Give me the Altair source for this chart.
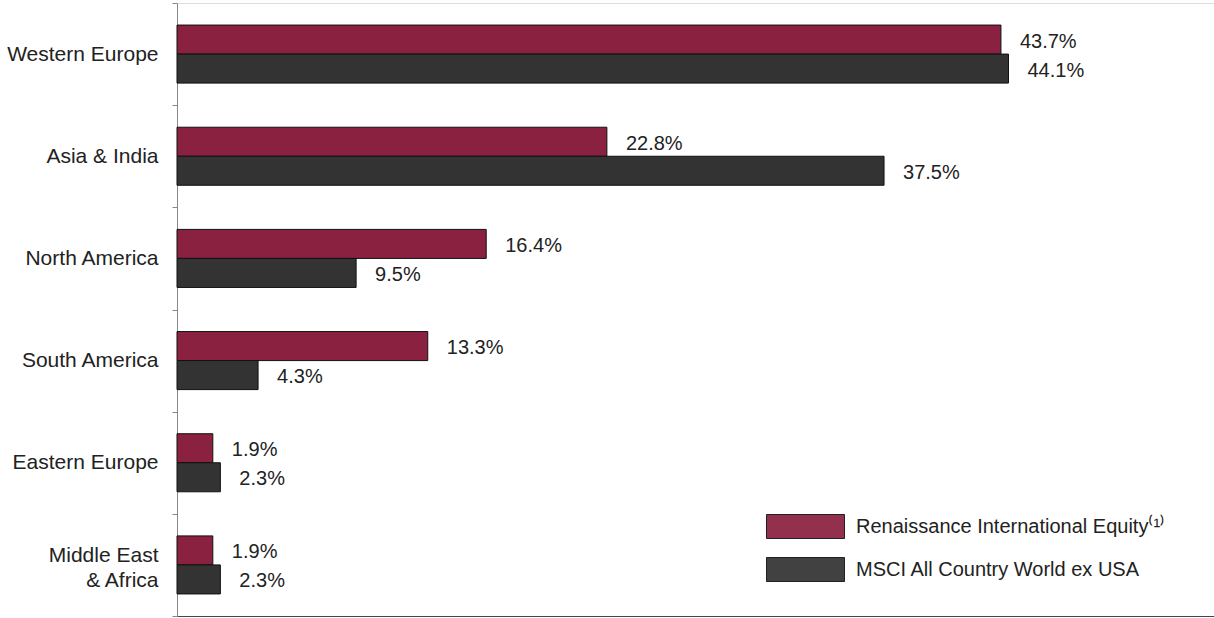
import altair as alt
import pandas as pd

regions = ["Western Europe", "Asia & India", "North America", "South America",
           "Eastern Europe", "Middle East & Africa"]
series = ["Renaissance International Equity\u207d\u00b9\u207e", "MSCI All Country World ex USA"]
fund = [43.7, 22.8, 16.4, 13.3, 1.9, 1.9]
bench = [44.1, 37.5, 9.5, 4.3, 2.3, 2.3]
colors = ["#8B2141", "#333333"]

rows = []
for r, a, b in zip(regions, fund, bench):
    rows.append({"region": r, "series": series[0], "value": a})
    rows.append({"region": r, "series": series[1], "value": b})
df = pd.DataFrame(rows)
df["label"] = df["value"].map(lambda v: f"{v:.1f}%")

FONT = "Liberation Sans"
FS = 20

y = alt.Y("region:N", sort=regions, title=None,
          scale=alt.Scale(paddingInner=0, paddingOuter=0),
          axis=alt.Axis(tickBand="extent", tickSize=5, tickColor="#888888",
                        domainColor="#888888", labelFontSize=21, labelColor="#222222",
                        labelFont=FONT, labelPadding=14, labelLineHeight=25,
                        labelOffset={"condition": {"test": "datum.value == 'Middle East & Africa'",
                                                   "value": -9}, "value": 0},
                        labelExpr="datum.label == 'Middle East & Africa' ? ['Middle East', '& Africa'] : datum.label"))
yoff = alt.YOffset("series:N", sort=series,
                   scale=alt.Scale(paddingOuter=0.76, paddingInner=0))
x = alt.X("value:Q", title=None, scale=alt.Scale(domain=[0, 55], nice=False),
          axis=alt.Axis(labels=False, ticks=False, grid=False, domainColor="#444444",
                        domainWidth=1.2))

bars = alt.Chart(df).mark_bar(stroke="#111111", strokeWidth=1).encode(
    y=y, yOffset=yoff, x=x,
    color=alt.Color("series:N", sort=series,
                    scale=alt.Scale(domain=series, range=colors),
                    legend=alt.Legend(title=None, orient="none", legendX=616, legendY=511,
                                      symbolType="M-3.25,-1H3.25V1H-3.25Z", symbolSize=576,
                                      symbolStrokeColor="#111111", symbolStrokeWidth=1,
                                      symbolOpacity=0.93,
                                      labelFontSize=FS, labelFont=FONT, labelColor="#222222",
                                      labelOffset=38, rowPadding=14, padding=0,
                                      labelLimit=400)),
)

text = alt.Chart(df).mark_text(align="left", baseline="middle", dx=19, dy=2,
                               fontSize=FS, font=FONT, color="#222222").encode(
    y=alt.Y("region:N", sort=regions), yOffset=alt.YOffset("series:N", sort=series),
    x="value:Q", text="label:N")

chart = alt.layer(bars, text).properties(
    width=1037, height=613,
    autosize=alt.AutoSizeParams(type="none"),
    padding={"left": 177, "top": 3, "right": 0, "bottom": 2},
).configure_view(stroke=None).configure(background="white")

chart.save("out.html", embed_options={"renderer": "svg", "actions": False})
